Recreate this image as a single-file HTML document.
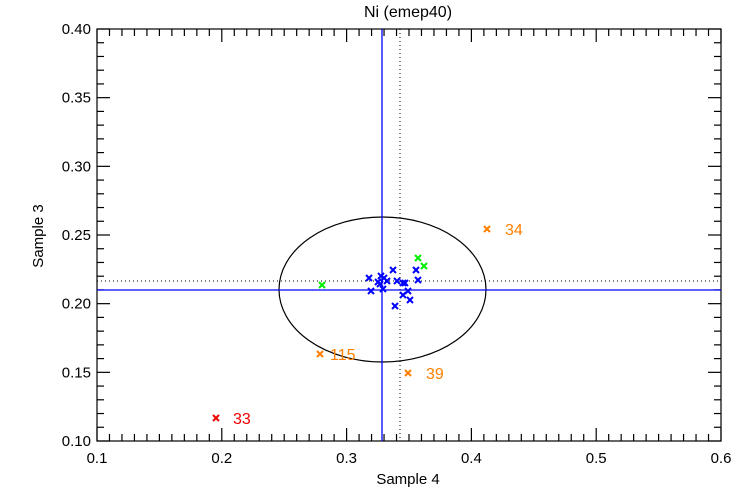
<!DOCTYPE html>
<html><head><meta charset="utf-8"><style>
html,body{margin:0;padding:0;background:#fff;}
svg{display:block;font-family:"Liberation Sans",sans-serif;}
</style></head><body>
<svg width="750" height="500" viewBox="0 0 750 500" xmlns="http://www.w3.org/2000/svg">
<defs>
<path id="m" d="M-3,-3 L3,3 M-3,3 L3,-3" stroke-width="2" fill="none"/>
</defs>
<text x="408" y="17" font-size="16" text-anchor="middle">Ni (emep40)</text>
<g stroke="#000" stroke-width="1.2" fill="none">
<rect x="97" y="29" width="624" height="412"/>
</g>
<g id="ticks" stroke="#000" stroke-width="1.2"></g>
<g id="labels" font-size="15" fill="#000"></g>
<text x="408" y="484" font-size="15" text-anchor="middle">Sample 4</text>
<text transform="translate(43,236) rotate(-90)" font-size="15" text-anchor="middle">Sample 3</text>
<line x1="400" y1="29" x2="400" y2="441" stroke="#000" stroke-width="1" stroke-dasharray="1,3"/>
<line x1="97" y1="281" x2="721" y2="281" stroke="#000" stroke-width="1" stroke-dasharray="1,3"/>
<ellipse cx="382.5" cy="289.5" rx="103.5" ry="72.5" fill="none" stroke="#000" stroke-width="1.2"/>
<line x1="382" y1="29" x2="382" y2="441" stroke="#0000ff" stroke-width="1.3"/>
<line x1="97" y1="290" x2="721" y2="290" stroke="#0000ff" stroke-width="1.3"/>
<g stroke="#0000ff">
<use href="#m" x="393" y="270"/><use href="#m" x="369" y="278"/><use href="#m" x="381" y="276"/>
<use href="#m" x="384" y="278"/><use href="#m" x="387" y="281"/><use href="#m" x="378" y="282"/>
<use href="#m" x="380" y="284"/><use href="#m" x="397" y="281"/><use href="#m" x="403" y="283"/>
<use href="#m" x="405" y="283"/><use href="#m" x="416" y="270"/><use href="#m" x="418" y="280"/>
<use href="#m" x="371" y="291"/><use href="#m" x="383" y="289"/><use href="#m" x="408" y="291"/>
<use href="#m" x="403" y="295"/><use href="#m" x="410" y="300"/><use href="#m" x="395" y="306"/>
</g>
<g stroke="#00ee00">
<use href="#m" x="418" y="258"/><use href="#m" x="424" y="266"/><use href="#m" x="322" y="285"/>
</g>
<g stroke="#ff7f00">
<use href="#m" x="487" y="229"/><use href="#m" x="320" y="354"/><use href="#m" x="408" y="373"/>
</g>
<g stroke="#ee0000"><use href="#m" x="216" y="418"/></g>
<g font-size="16">
<text x="505" y="235" fill="#ff7f00">34</text>
<text x="330" y="360" fill="#ff7f00">115</text>
<text x="426" y="379" fill="#ff7f00">39</text>
<text x="233" y="424" fill="#ee0000">33</text>
</g>
<script>
var t=document.getElementById('ticks'),l=document.getElementById('labels'),ns='http://www.w3.org/2000/svg';
function ln(a,b,c,d){var e=document.createElementNS(ns,'line');e.setAttribute('x1',a);e.setAttribute('y1',b);e.setAttribute('x2',c);e.setAttribute('y2',d);t.appendChild(e);}
function tx(x,y,s,a){var e=document.createElementNS(ns,'text');e.setAttribute('x',x);e.setAttribute('y',y);e.setAttribute('text-anchor',a);e.textContent=s;l.appendChild(e);}
for(var i=0;i<=50;i++){var x=97+i*12.48,L=(i%10==0)?13:7;ln(x,441,x,441-L);ln(x,29,x,29+L);if(i%10==0)tx(x,463,(0.1+i*0.01).toFixed(1),'middle');}
for(var j=0;j<=30;j++){var y=441-j*412/30,L=(j%5==0)?13:7;ln(97,y,97+L,y);ln(721,y,721-L,y);if(j%5==0)tx(91,y+5,(0.1+j*0.01).toFixed(2),'end');}
</script>
</svg>
</body></html>
